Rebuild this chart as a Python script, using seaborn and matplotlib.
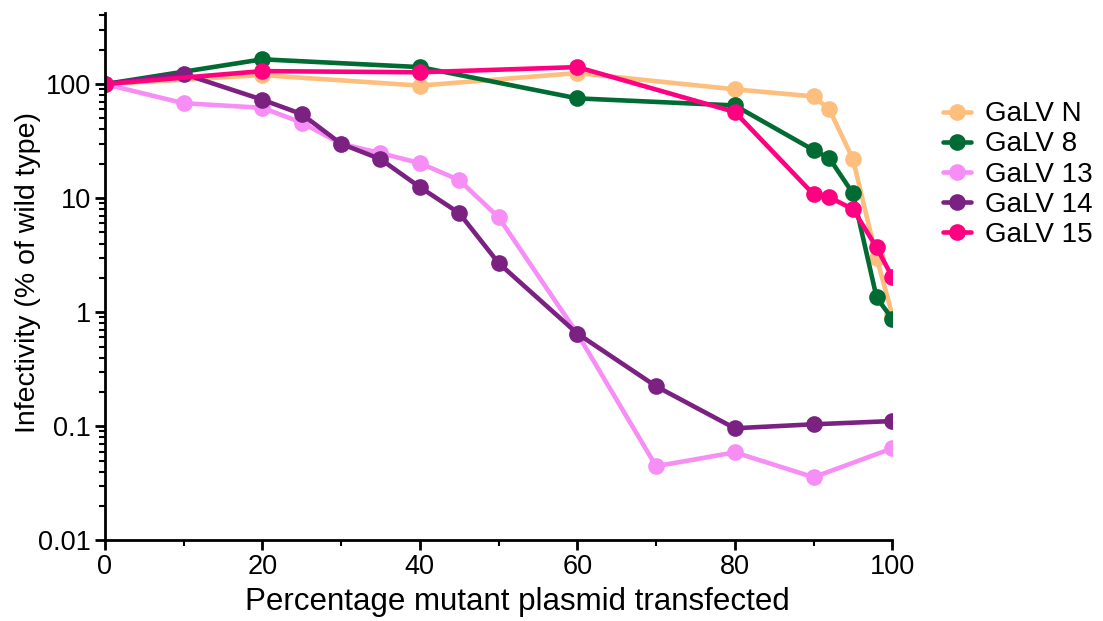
import numpy as np
import pandas as pd
import matplotlib
matplotlib.use("Agg")
import matplotlib.pyplot as plt
from matplotlib.ticker import FixedLocator, FuncFormatter, LogLocator, NullFormatter
import seaborn as sns

# ---- data ----
x_N = [0, 20, 40, 60, 80, 90, 92, 95, 98, 100]
y_N = [100, 120, 97, 125, 90, 78, 60, 22, 3.0, 0.95]

x_8 = [0, 20, 40, 60, 80, 90, 92, 95, 98, 100]
y_8 = [100, 165, 141, 75, 65, 26.4, 22.4, 11, 1.35, 0.87]

x_13 = [0, 10, 20, 25, 30, 35, 40, 45, 50, 60, 70, 80, 90, 100]
y_13 = [100, 68, 62, 46, 30, 24.8, 20.3, 14.4, 6.8, 0.65, 0.0446, 0.059, 0.0357, 0.064]

x_14 = [0, 10, 20, 25, 30, 35, 40, 45, 50, 60, 70, 80, 90, 100]
y_14 = [100, 123, 73, 54.6, 30, 22, 12.5, 7.4, 2.7, 0.65, 0.224, 0.096, 0.104, 0.111]

x_15 = [0, 20, 40, 60, 80, 90, 92, 95, 98, 100]
y_15 = [100, 130, 127, 141, 57, 10.8, 10.2, 8.0, 3.7, 2.03]

series_names = ["GaLV N", "GaLV 8", "GaLV 13", "GaLV 14", "GaLV 15"]
colors = ["#FDBE7E", "#006B33", "#F68EF5", "#7B2182", "#FF0080"]

frames = []
for name, xs, ys in zip(series_names,
                        [x_N, x_8, x_13, x_14, x_15],
                        [y_N, y_8, y_13, y_14, y_15]):
    frames.append(pd.DataFrame({"x": xs, "y": ys, "series": name}))
df = pd.concat(frames, ignore_index=True)

# ---- plot ----
sns.set_style("ticks")
plt.rcParams["font.family"] = ["Liberation Sans", "DejaVu Sans"]
plt.rcParams["text.color"] = "black"
plt.rcParams["axes.labelcolor"] = "black"
plt.rcParams["xtick.color"] = "black"
plt.rcParams["ytick.color"] = "black"

fig = plt.figure(figsize=(11.03, 6.21), dpi=100)
ax = fig.add_axes([0.095, 0.130, 0.714, 0.849])

sns.lineplot(data=df, x="x", y="y", hue="series", hue_order=series_names,
             palette=colors, marker="o", markersize=12, markeredgewidth=0,
             linewidth=3.3, estimator=None, sort=False, legend=False, ax=ax)

ax.set_yscale("log")
ax.set_xlim(0, 100)
ax.set_ylim(0.01, 420)

ax.xaxis.set_major_locator(FixedLocator([0, 20, 40, 60, 80, 100]))
ax.xaxis.set_minor_locator(FixedLocator([10, 30, 50, 70, 90]))
ax.yaxis.set_major_locator(FixedLocator([0.01, 0.1, 1, 10, 100]))
ax.yaxis.set_major_formatter(FuncFormatter(lambda v, p: "%g" % v))
ax.yaxis.set_minor_locator(LogLocator(base=10, subs=np.arange(2, 10), numticks=20))
ax.yaxis.set_minor_formatter(NullFormatter())

for s in ["top", "right"]:
    ax.spines[s].set_visible(False)
for s in ["left", "bottom"]:
    ax.spines[s].set_linewidth(2)
    ax.spines[s].set_color("black")

ax.tick_params(axis="both", which="major", length=7, width=2, labelsize=19.5,
               colors="black", pad=3)
ax.tick_params(axis="both", which="minor", length=4, width=1.5, colors="black")

ax.set_xlabel("Percentage mutant plasmid transfected", fontsize=22.5)
ax.set_ylabel("Infectivity (% of wild type)", fontsize=20.5)
ax.xaxis.set_label_coords(0.524, -0.088)
ax.yaxis.set_label_coords(-0.081, 0.508)
ax.grid(False)

handles = ax.get_lines()[:5]
fig.legend(handles, series_names, loc="upper left",
           bbox_to_anchor=(0.855, 0.837), frameon=False, fontsize=20,
           handlelength=1.0, handletextpad=0.5, labelspacing=0.15,
           borderpad=0, borderaxespad=0)

fig.savefig("out.png", dpi=100)
